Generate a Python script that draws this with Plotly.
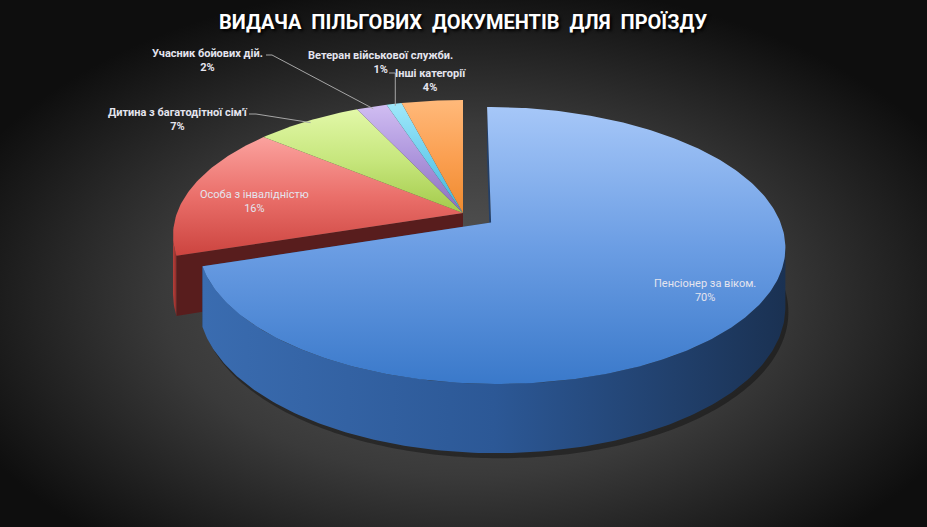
import numpy as np
import plotly.graph_objects as go

# ---------------- data ----------------
categories = ["Пенсіонер за віком.", "Особа з інвалідністю", "Дитина з багатодітної сім'ї",
              "Учасник бойових дій.", "Ветеран військової служби.", "Інші категорії"]
values = [70, 16, 7, 2, 1, 4]
explode = [0.12, 0, 0, 0, 0, 0]
title_text = "ВИДАЧА  ПІЛЬГОВИХ  ДОКУМЕНТІВ  ДЛЯ  ПРОЇЗДУ"

# ---------------- style ----------------
top_grad = [("#a6c7f8", "#6c9ee4", "#3a79ca"),
            ("#fba29e", "#ea6f6a", "#cc443f"),
            ("#e2f8a8", "#c6e67c", "#a3ca4a"),
            ("#d0bdf2", "#ad95dc", "#8a6fbc"),
            ("#a0e8fa", "#6fd0ee", "#42b2d4"),
            ("#ffb97a", "#fba052", "#ef8a2e")]
wall_grad = [("#3a6cb0", "#2c5896", "#1a3152"),
             ("#b8403b", "#a33632", "#8a2b28"),
             ("#8fb040", "#7c9a36", "#6a842c"),
             ("#7a5ea8", "#6a5092", "#5a447c"),
             ("#3a9cba", "#3088a4", "#28748c"),
             ("#d6772a", "#c06a24", "#a85c1e")]
cut_col = ["#223f69", "#581d1d", "#4f6420", "#3f2f5c", "#1f5666", "#7a4214"]
label_col = "#e4e4ee"
FONT = "Roboto"

# projection of the tilted pie (perspective)
CX, CY, A, B, K, D = 463, 213, 286, 131.6, 0.1646, 57


def proj(u, v, z=0.0):
    w = 1 + K * v
    return CX + A * u / w, CY - B * v / w + D * z / w


total = sum(values)
fr = np.array(values, dtype=float) / total
bounds = np.concatenate([[0], np.cumsum(fr)]) * 2 * np.pi
mids = (bounds[:-1] + bounds[1:]) / 2
offs = [(e * np.sin(m), e * np.cos(m)) for e, m in zip(explode, mids)]

fig = go.Figure()


def poly(pts, grad, gtype="vertical"):
    xs = [p[0] for p in pts] + [pts[0][0]]
    ys = [p[1] for p in pts] + [pts[0][1]]
    if gtype == "vertical":
        grad = grad[::-1]  # y axis is reversed: lowest value is at the bottom of the screen
    n = len(grad)
    cs = [[i / (n - 1), c] for i, c in enumerate(grad)]
    fig.add_trace(go.Scatter(
        x=xs, y=ys, fill="toself", mode="lines",
        line=dict(width=0, color="rgba(0,0,0,0)"),
        fillgradient=dict(type=gtype, colorscale=cs),
        hoverinfo="skip", showlegend=False))


def arc(t0, t1, ou, ov, z, n=120):
    ts = np.linspace(t0, t1, max(2, int(n * (t1 - t0) / (2 * np.pi)) + 2))
    return [proj(ou + np.sin(t), ov + np.cos(t), z) for t in ts]


# background radial gradient
fig.add_trace(go.Scatter(
    x=[-80, 1010, 1010, -80, -80], y=[-20, -20, 620, 620, -20],
    fill="toself", mode="none",
    fillgradient=dict(type="radial", colorscale=[[0, "#5a5a5a"], [0.55, "#3a3a3a"], [1, "#0e0e0e"]]),
    hoverinfo="skip", showlegend=False))

# silhouette angles
tt = np.linspace(0, 2 * np.pi, 3601)


def silhouette(ou, ov):
    xs = np.array([proj(ou + np.sin(t), ov + np.cos(t))[0] for t in tt])
    return tt[np.argmax(xs)], tt[np.argmin(xs)]


def draw_slice(i):
    ou, ov = offs[i]
    t0, t1 = bounds[i], bounds[i + 1]
    n = len(values)
    prev_i, next_i = (i - 1) % n, (i + 1) % n
    for t, nb in ((t0, prev_i), (t1, next_i)):
        if explode[i] > 0 or explode[nb] > 0:
            a_top = proj(ou, ov, 0)
            r_top = proj(ou + np.sin(t), ov + np.cos(t), 0)
            r_bot = proj(ou + np.sin(t), ov + np.cos(t), 1)
            a_bot = proj(ou, ov, 1)
            poly([a_top, r_top, r_bot, a_bot], (cut_col[i], cut_col[i]), "horizontal")
    tR, tL = silhouette(ou, ov)
    w0, w1 = max(t0, tR), min(t1, tL)
    if w1 > w0:
        top = arc(w0, w1, ou, ov, 0, 400)
        bot = arc(w0, w1, ou, ov, 1, 400)
        poly(top + bot[::-1], wall_grad[i], "horizontal")
    pts = [proj(ou, ov, 0)] + arc(t0, t1, ou, ov, 0, 400)
    poly(pts, top_grad[i], "vertical")


# shadow under the exploded slice
ou0, ov0 = offs[0]
sh = arc(bounds[0], bounds[1], ou0, ov0, 1, 400)
fig.add_trace(go.Scatter(
    x=[p[0] + 3 for p in sh] + [proj(ou0, ov0, 1)[0]], y=[p[1] + 5 for p in sh] + [proj(ou0, ov0, 1)[1]],
    fill="toself", mode="none", fillcolor="rgba(0,0,0,0.35)", hoverinfo="skip", showlegend=False))

order = [i for i in range(len(values)) if explode[i] == 0] + [i for i in range(len(values)) if explode[i] > 0]
for i in order:
    draw_slice(i)

# ---------------- labels ----------------
pct = [f"{round(v / total * 100)}%" for v in values]
label_xy = [(705, 290), (254, 201), (178, 119), (207, 60), (380, 62), (430, 80)]
label_bold = [False, False, True, True, True, True]
for i in range(len(values)):
    fig.add_annotation(x=label_xy[i][0], y=label_xy[i][1], xref="x", yref="y",
                       text=f"{categories[i]}<br>{pct[i]}", showarrow=False,
                       font=dict(family=FONT, size=11, color=label_col,
                                 weight="bold" if label_bold[i] else "normal"))

leaders = {2: [(249, 114), (256, 114)], 3: [(266, 55), (272, 55)], 4: [(389, 73), None]}
for i, pts in leaders.items():
    ou, ov = offs[i]
    rim = proj(ou + 0.98 * np.sin(mids[i]), ov + 0.98 * np.cos(mids[i]))
    p0, el = pts
    if el is None:
        el = (rim[0], p0[1])
    fig.add_trace(go.Scatter(x=[p0[0], el[0], rim[0]], y=[p0[1], el[1], rim[1]], mode="lines",
                             line=dict(color="#a6a6a6", width=1), hoverinfo="skip", showlegend=False))

fig.add_annotation(x=463, y=22, xref="x", yref="y", text=title_text, showarrow=False,
                   font=dict(family=FONT, size=20, color="#ffffff", weight="bold",
                             shadow="2px 2px 3px #000000"))

fig.update_layout(
    width=927, height=527, margin=dict(l=0, r=0, t=0, b=0),
    paper_bgcolor="#222222", plot_bgcolor="#222222",
    xaxis=dict(range=[0, 927], visible=False, fixedrange=True),
    yaxis=dict(range=[527, 0], visible=False, fixedrange=True),
    showlegend=False,
)

fig.write_html("out.html", config={"displayModeBar": False},
               post_script="document.body.style.margin='0';document.body.style.overflow='hidden';")
